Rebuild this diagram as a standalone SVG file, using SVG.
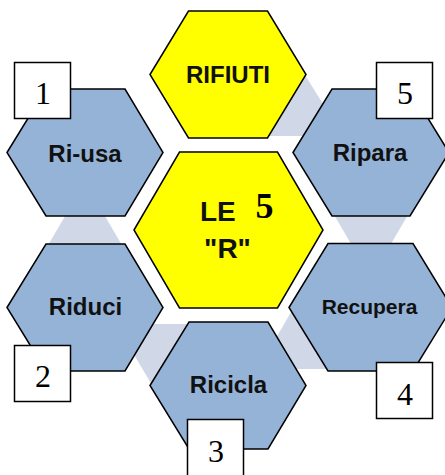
<svg xmlns="http://www.w3.org/2000/svg" width="445" height="475" viewBox="0 0 445 475">
<style>
.hexb{fill:#95B3D7;stroke:#000;stroke-width:1.5;stroke-linejoin:miter}
.hexy{fill:#FFFF00;stroke:#000;stroke-width:1.5}
.tri{fill:#D0D8E8;stroke:none}
.lbl{font-family:"Liberation Sans",Arial,sans-serif;font-weight:bold;fill:#111;text-anchor:middle}
.num{font-family:"Liberation Serif","Times New Roman",serif;font-size:32px;fill:#000;text-anchor:middle}
.box{fill:#fff;stroke:#000;stroke-width:1.5}
</style>
<g id="connectors">
<polygon class="tri" points="300,67 343,136 257,136"/>
<polygon class="tri" points="85,182 126,252 44,252"/>
<polygon class="tri" points="330,208 412,208 371,278"/>
<polygon class="tri" points="116,324 196,324 156,392"/>
<polygon class="tri" points="298,300 338,369 258,369"/>
</g>
<g id="rifiuti">
<polygon class="hexy" points="150,74.5 188.5,11 267.5,11 306,74.5 267.5,138 188.5,138"/>
<text class="lbl" x="228" y="83" font-size="24">RIFIUTI</text>
</g>
<g id="center">
<polygon class="hexy" points="134,230 179.5,152 277.5,152 323,230 277.5,308 179.5,308"/>
<text class="lbl" x="200" y="221" font-size="28" style="text-anchor:start">LE</text>
<text x="264.5" y="218" font-family="'Liberation Serif','Times New Roman',serif" font-weight="bold" font-size="36" text-anchor="middle" fill="#000">5</text>
<text class="lbl" x="227.5" y="258" font-size="28">"R"</text>
</g>
<g id="riusa">
<polygon class="hexb" points="7,152.5 46,89 125,89 163,152.5 125,216 46,216"/>
<text class="lbl" x="85" y="162" font-size="24">Ri-usa</text>
</g>
<g id="ripara">
<polygon class="hexb" points="293,152.5 332,89 410,89 449,152.5 410,216 332,216"/>
<text class="lbl" x="370" y="161" font-size="24">Ripara</text>
</g>
<g id="riduci">
<polygon class="hexb" points="7,307.5 46,244 125,244 163,307.5 125,371 46,371"/>
<text class="lbl" x="85.5" y="315" font-size="24">Riduci</text>
</g>
<g id="recupera">
<polygon class="hexb" points="289,307.5 328,243.5 413,243.5 452,307.5 413,371 328,371"/>
<text class="lbl" x="369.5" y="314" font-size="21">Recupera</text>
</g>
<g id="ricicla">
<polygon class="hexb" points="150,385.5 189,322 268,322 306,385.5 268,449 189,449"/>
<text class="lbl" x="228.5" y="393" font-size="24">Ricicla</text>
</g>
<g id="box1">
<rect class="box" x="14.5" y="62.5" width="56" height="56"/>
<text class="num" x="43" y="104">1</text>
</g>
<g id="box5">
<rect class="box" x="376.5" y="62.5" width="56" height="56"/>
<text class="num" x="405" y="104">5</text>
</g>
<g id="box2">
<rect class="box" x="14.5" y="345.5" width="56" height="56"/>
<text class="num" x="43" y="387">2</text>
</g>
<g id="box4">
<rect class="box" x="376.5" y="362.5" width="56" height="56"/>
<text class="num" x="405" y="405">4</text>
</g>
<g id="box3">
<rect class="box" x="187.5" y="419.5" width="56" height="60"/>
<text class="num" x="216" y="462">3</text>
</g>
</svg>
